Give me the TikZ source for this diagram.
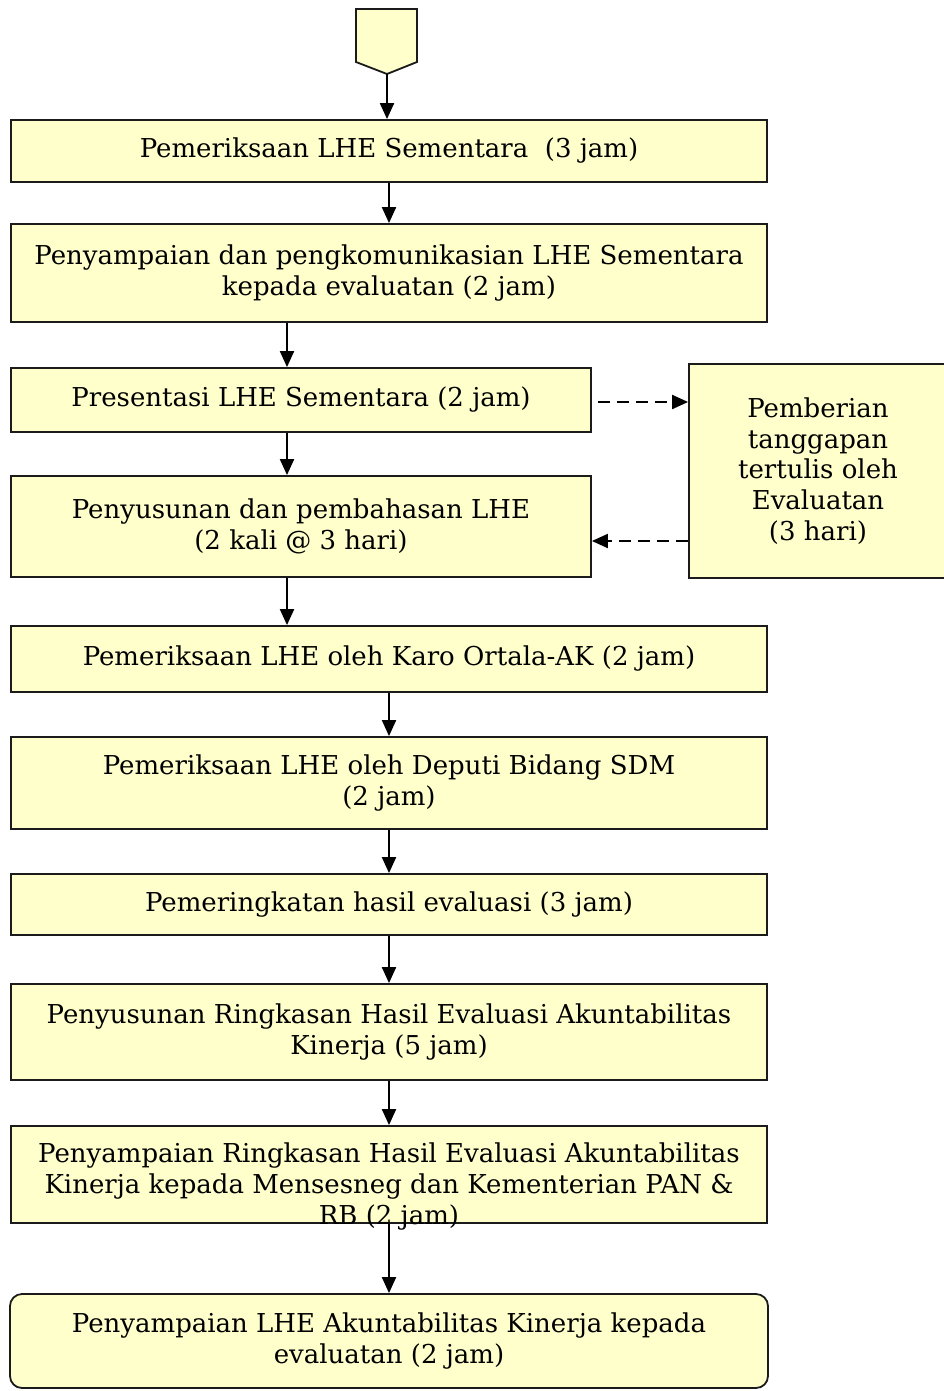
\documentclass[tikz,border=0pt]{standalone}
\usepackage{fontspec}
\setmainfont{DejaVu Serif}
\usetikzlibrary{positioning,arrows.meta,calc}
\definecolor{boxfill}{RGB}{255,255,204}
\definecolor{boxline}{RGB}{27,27,27}

\begin{document}
\begin{tikzpicture}[x=0.5pt, y=-0.5pt,
    proc/.style={draw=boxline, fill=boxfill, line width=0.9pt, align=center,
        inner sep=0pt, font=\fontsize{13}{15.3}\selectfont},
    flow/.style={-{Triangle[length=8pt,width=7pt]}, line width=1pt},
    back/.style={flow, dash pattern=on 6pt off 3.5pt}]

    \useasboundingbox (0,0) rectangle (943,1391);

    % start marker (off-page connector)
    \filldraw[draw=boxline, fill=boxfill, line width=0.9pt]
        (356,9) -- (417,9) -- (417,62) -- (387,74) -- (356,62) -- cycle;
    \coordinate (start) at (387,74);
    \coordinate (lx) at (287,0);

    % main steps
    \node[proc, minimum width=378pt, minimum height=31pt] (b1) at (389,151)
        {Pemeriksaan LHE Sementara~ (3 jam)};
    \node[proc, minimum width=378pt, minimum height=49pt] (b2) at (389,273)
        {Penyampaian dan pengkomunikasian LHE Sementara\\ kepada evaluatan (2 jam)};
    \node[proc, minimum width=290pt, minimum height=32pt] (b3) at (301,400)
        {Presentasi LHE Sementara (2 jam)};
    \node[proc, minimum width=290pt, minimum height=50.5pt] (b4) at (301,526.5)
        {Penyusunan dan pembahasan LHE\\ (2 kali @ 3 hari)};

    % response from evaluatan
    \node[proc, minimum width=129pt, minimum height=107pt] (side) at (818,471)
        {Pemberian\\ tanggapan\\ tertulis oleh\\ Evaluatan\\ (3 hari)};

    \node[proc, minimum width=378pt, minimum height=33pt] (b5) at (389,659)
        {Pemeriksaan LHE oleh Karo Ortala-AK (2 jam)};
    \node[proc, minimum width=378pt, minimum height=46pt] (b6) at (389,783)
        {Pemeriksaan LHE oleh Deputi Bidang SDM\\ (2 jam)};
    \node[proc, minimum width=378pt, minimum height=30.5pt] (b7) at (389,904.5)
        {Pemeringkatan hasil evaluasi (3 jam)};
    \node[proc, minimum width=378pt, minimum height=48pt] (b8) at (389,1032)
        {Penyusunan Ringkasan Hasil Evaluasi Akuntabilitas\\ Kinerja (5 jam)};
    % text sits low in this box
    \node[proc, minimum width=378pt, minimum height=48.5pt,
        label={[font=\fontsize{13}{15.3}\selectfont, align=center, yshift=-6pt]center:{Penyampaian Ringkasan Hasil Evaluasi Akuntabilitas\\ Kinerja kepada Mensesneg dan Kementerian PAN \&\\ RB (2 jam)}}]
        (b9) at (389,1174.5) {};

    % end step
    \node[proc, rounded corners=6pt, minimum width=379pt, minimum height=47pt] (b10) at (389,1341)
        {Penyampaian LHE Akuntabilitas Kinerja kepada\\ evaluatan (2 jam)};

    % arrows
    \draw[flow] (start) -- (start |- b1.north);
    \draw[flow] (b1.south) -- (b2.north);
    \draw[flow] (b2.south -| lx) -- (b3.north -| lx);
    \draw[flow] (b3.south -| lx) -- (b4.north -| lx);
    \draw[flow] (b4.south -| lx) -- (b5.north -| lx);
    \draw[flow] (b5.south) -- (b6.north);
    \draw[flow] (b6.south) -- (b7.north);
    \draw[flow] (b7.south) -- (b8.north);
    \draw[flow] (b8.south) -- (b9.north);
    \draw[flow] (b9.south) -- (b10.north);

    % dashed loop
    \path ([yshift=-1pt]b3.east) coordinate (r3);
    \path ([yshift=-7.25pt]b4.east) coordinate (r4);
    \draw[back] ([xshift=3pt]r3) -- (r3 -| side.west);
    \draw[back] (r4 -| side.west) -- (r4);

\end{tikzpicture}
\end{document}
